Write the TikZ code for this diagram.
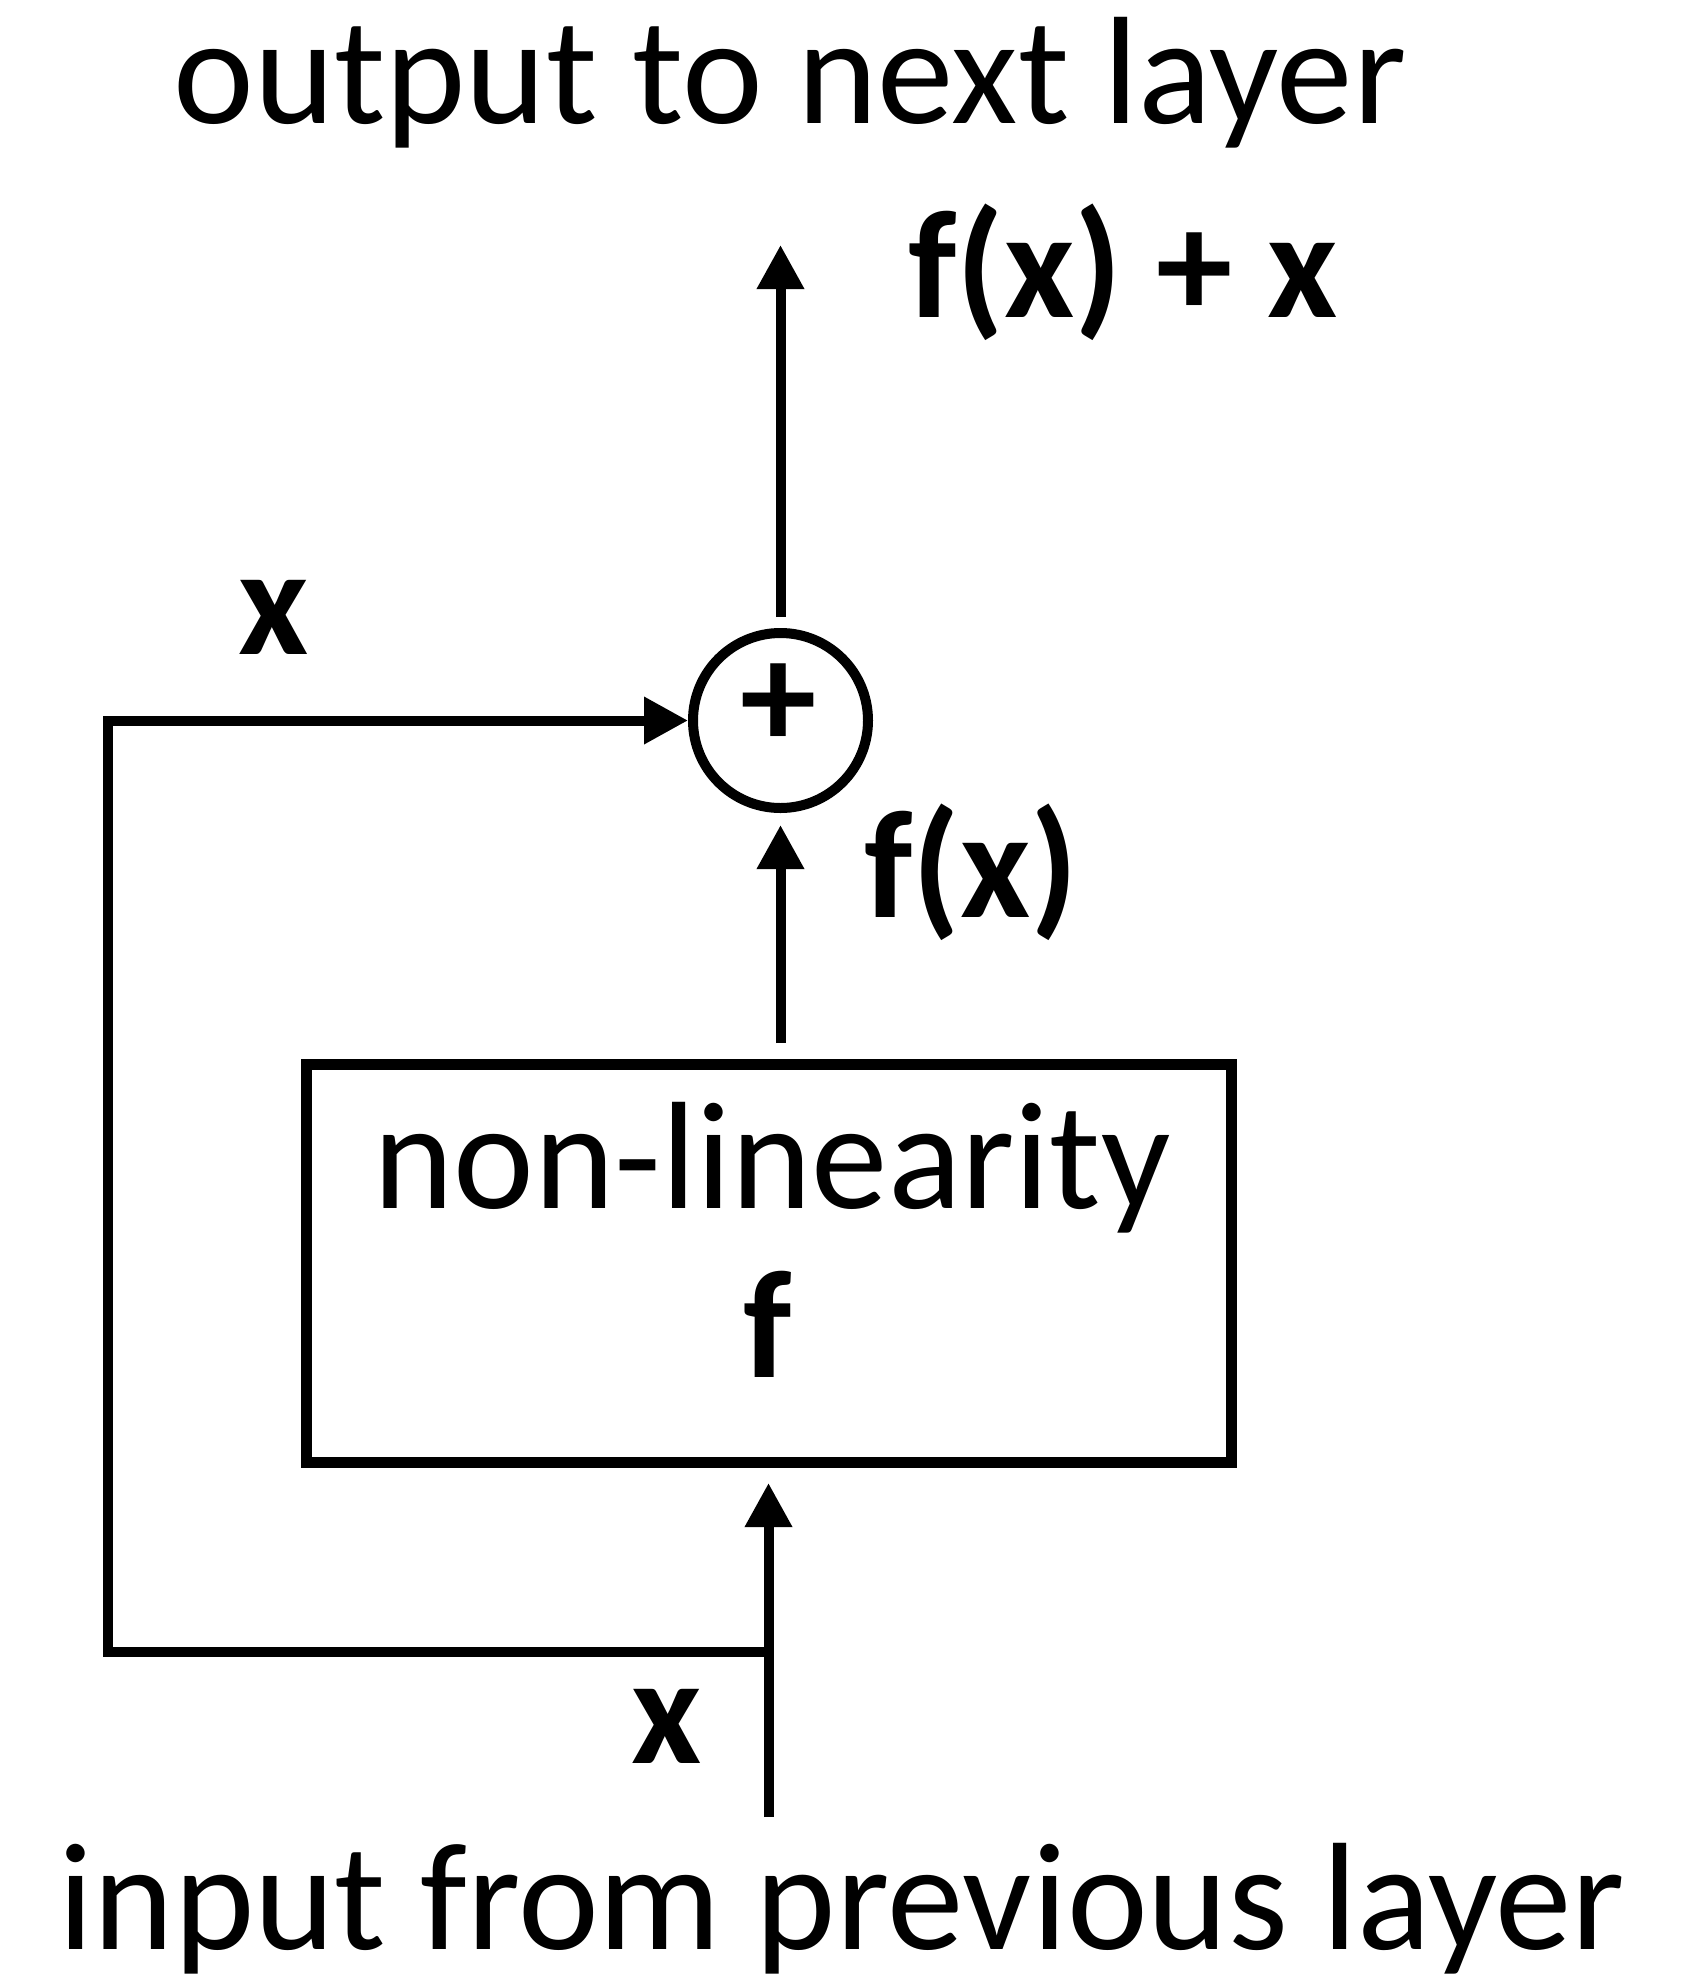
\documentclass[tikz,border=0pt]{standalone}
\usepackage{fontspec}
\setmainfont{Carlito}
\usetikzlibrary{arrows.meta}
\begin{document}
\begin{tikzpicture}[x=1pt,y=-1pt,
  txt/.style={inner sep=0pt,outer sep=0pt,anchor=base,font=\fontsize{153pt}{180pt}\selectfont},
  btxt/.style={txt,font=\fontsize{153pt}{180pt}\selectfont\bfseries},
  conn/.style={line width=10pt,line join=miter},
  arr/.style={conn,-{Triangle[length=44pt,width=45pt]}},
  boxstyle/.style={draw,line width=11pt,minimum width=925pt,minimum height=398pt,inner sep=0pt},
  sumstyle/.style={draw,circle,line width=10pt,minimum size=175pt,inner sep=0pt}]
\useasboundingbox (0,0) rectangle (1696,1974);
\fill[white] (0,0) rectangle (1696,1974);
% texts
\node[txt] (outtxt) at (790,123) {output to next layer};
\node[txt] (intxt) at (842,1949) {input from previous layer};
\node[btxt, anchor=base west] (fxx) at (908,317) {f(x) + x};
\node[btxt, anchor=base west] (fx) at (864,917) {f(x)};
\node[btxt] (xtop) at (274,654) {x};
\node[btxt] (xbot) at (667,1763) {x};
% shapes
\node[sumstyle] (sum) at (780.5,720.5) {};
\node[btxt] (plus) at (779,748) {+};
\node[boxstyle] (nl) at (768.5,1263.5) {};
\node[txt] (nltxt) at (772,1208) {non-linearity};
\node[btxt] (ftxt) at (768,1377) {f};
% coordinates
\coordinate (topend) at (780.5,245);
\coordinate (inbot) at (768.5,1817);
\coordinate (branch) at (768.5,1652);
\coordinate (leftbot) at (108,1652);
\coordinate (lefttop) at (108,720.5);
% connectors
\draw[arr, shorten <=11pt] (sum.north) -- (topend);
\draw[arr, shorten <=16pt, shorten >=12pt] (nl.north -| sum.south) -- (sum.south);
\draw[arr, shorten >=15pt] (inbot) -- (nl.south);
\draw[arr] (branch) -- (leftbot) -- (lefttop) -- (sum.west);
\end{tikzpicture}
\end{document}
